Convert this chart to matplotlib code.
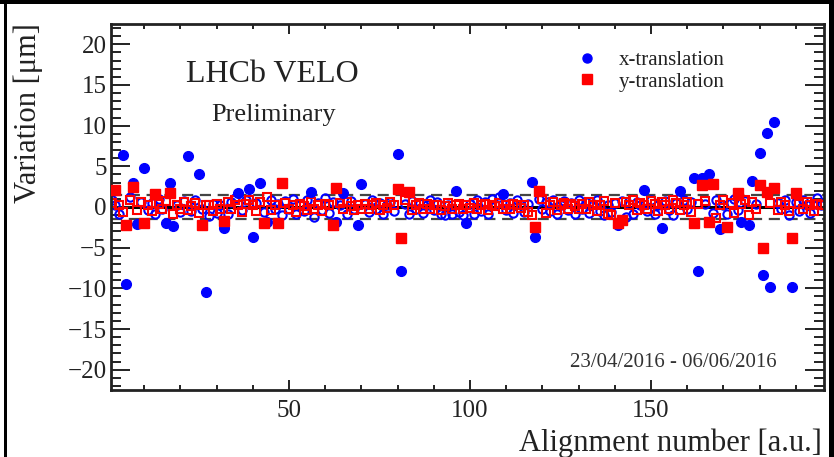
import numpy as np
import matplotlib
matplotlib.use('Agg')
import matplotlib.pyplot as plt
from matplotlib.patches import Rectangle
from matplotlib.lines import Line2D
from matplotlib.ticker import MultipleLocator

plt.rcParams['font.family'] = ['Liberation Serif', 'DejaVu Serif']

# alignment number 1..197
alignment = np.arange(1, 198)

# x-translation variation [um]
x_shift = [0.8, 0.3, -0.9, 6.4, -9.5, 1.2, 3.0, -2.1, 0.6, 4.8,
           -0.4, 0.5, -0.8, 1.0, -0.3, -2.0, 3.0, -2.3, 0.2, -0.6,
           0.7, 6.3, -0.5, 0.9, 4.1, -0.2, -10.5, -1.1, 0.4, -0.7,
           0.3, -2.6, -0.9, 0.6, 1.1, 1.7, -0.4, 0.8, 2.2, -3.7,
           0.5, 2.9, -0.6, -1.8, 0.9, -0.3, 0.4, -1.0, 0.7, -0.2,
           1.0, -0.8, 0.3, -0.5, 0.8, 1.9, -1.2, 0.5, -0.4, 1.1,
           -0.7, 0.6, -1.9, 0.2, 1.7, -0.9, 0.7, -0.3, -2.2, 2.8,
           0.4, -0.6, 0.9, -0.2, 0.5, -0.8, 0.3, 0.6, -0.5, 6.5,
           -7.9, 0.4, -0.9, 0.7, -0.3, 0.5, -0.7, 0.2, 0.8, -0.4,
           0.6, -0.9, -1.0, 0.3, -0.8, 2.0, -0.6, -1.0, -2.0, 0.4,
           -0.8, 0.9, -0.5, 0.6, -0.9, 1.0, 0.3, 1.2, 1.6, -0.4,
           0.5, -0.7, 0.8, 0.2, -0.6, 0.4, 3.1, -3.7, 1.0, -0.3,
           0.6, -0.5, 0.9, -0.8, 0.3, 0.7, -0.4, 0.5, -0.9, 0.8,
           -0.2, 0.6, -0.7, 0.4, 0.9, -0.5, -1.0, 0.3, -0.6, 0.5,
           -2.2, 0.7, -1.2, 0.4, -0.8, 0.6, 0.2, 2.1, -0.5, 0.8,
           -0.9, 0.3, -2.6, 0.7, -0.4, -1.0, 0.5, 2.0, 0.9, -0.3,
           0.6, 3.6, -7.9, 3.6, 0.4, 4.1, -0.7, 0.8, -2.7, 0.3,
           -0.9, 0.5, 1.0, -0.4, -1.8, 0.7, -2.2, 3.2, 0.4, 6.7,
           -8.4, 9.1, -9.8, 10.4, 0.5, -0.3, 0.8, -1.0, -9.8, 0.6,
           -0.5, 0.9, 0.3, -0.7, 0.4, 1.1, 0.2]

# y-translation variation [um]
y_shift = [0.5, 2.1, 0.3, -0.6, -2.2, 0.8, 2.5, -0.4, 0.6, -2.0,
           0.2, -0.5, 1.6, 0.4, -0.3, 0.7, 1.7, -0.8, 0.3, -0.2,
           0.6, -0.4, 0.1, 0.5, -0.7, -2.2, 0.3, 0.2, -0.5, 0.4,
           -0.3, -1.7, 0.6, -0.2, 0.8, 0.3, -0.6, 0.4, 0.9, 0.2,
           -0.5, 0.6, -2.0, 1.2, -0.4, 0.3, -2.0, 2.9, 0.5, -0.3,
           0.2, -0.6, 0.4, 0.1, -0.4, 0.6, -0.2, 0.3, -0.5, 0.4,
           0.2, -2.2, 2.3, 0.5, -0.3, 0.6, 0.1, -0.4, 0.3, -0.2,
           0.4, -0.3, 0.2, 0.5, -0.4, 0.3, -0.1, 0.6, 0.2, 2.2,
           -3.8, 0.8, 1.9, -0.4, 0.3, 0.5, -0.2, 0.4, -0.3, 0.2,
           0.3, -0.4, 0.1, 0.5, -0.3, 0.2, 0.4, -0.2, 0.3, -0.1,
           0.5, -0.3, 0.2, 0.4, -0.4, 0.3, 0.1, 0.5, -0.2, 0.3,
           -0.3, 0.4, 0.2, -0.1, 0.3, -0.6, -1.0, -2.4, 2.0, 1.0,
           -0.7, 0.3, 0.6, -0.4, 0.2, 0.5, -0.3, 0.4, 0.1, -0.2,
           0.4, -0.3, 0.6, 0.2, -0.5, 0.3, 0.7, -0.8, -1.0, 0.5,
           -2.0, -1.6, 0.6, 0.3, 0.9, -0.4, 0.5, 0.2, -0.3, 0.7,
           0.4, -0.5, 0.6, 0.3, -0.2, 0.8, 0.5, -0.4, 0.3, 0.6,
           -0.6, -2.0, 0.4, 2.7, 0.7, -1.8, 2.8, -1.4, 0.3, 0.9,
           -2.4, 0.5, -0.7, 1.7, 0.4, 0.8, -1.0, 0.6, -0.3, 2.7,
           -5.1, 1.9, 0.5, 2.3, -0.4, 0.6, 0.3, -0.5, -3.8, 1.7,
           0.4, -0.3, 0.6, 0.2, -0.5, 0.4, 0.3]

band = 1.5  # tolerance band, points outside are drawn filled

fig = plt.figure(figsize=(8.34, 4.57), dpi=100)
ax = fig.add_axes([0.1331, 0.1466, 0.8549, 0.8009])

ax.axhline(0, color='black', lw=2.2, zorder=1)
ax.axhline(band, color='#444444', lw=1.6, ls=(0, (5, 3)), zorder=1)
ax.axhline(-band, color='#444444', lw=1.6, ls=(0, (5, 3)), zorder=1)

for vals, col, mk in [(x_shift, '#0000ff', 'o'), (y_shift, '#ff0000', 's')]:
    v = np.array(vals)
    out = np.abs(v) > band
    ax.plot(alignment[~out], v[~out], mk, ls='none', mfc='none', mec=col,
            mew=1.5, ms=6.0, zorder=2)
    ax.plot(alignment[out], v[out], mk, ls='none', color=col, ms=7.0, zorder=3)

ax.set_xlim(0.8, 197.8)
ax.set_ylim(-22.5, 22.5)
ax.xaxis.set_major_locator(MultipleLocator(50))
ax.xaxis.set_minor_locator(MultipleLocator(10))
ax.yaxis.set_major_locator(MultipleLocator(5))
ax.yaxis.set_minor_locator(MultipleLocator(1))
ax.set_xticks([50, 100, 150])
ax.tick_params(axis='both', which='both', direction='in', top=True, right=True,
               width=1.4, colors='#222222', labelsize=18)
ax.tick_params(axis='y', which='major', length=14, pad=3)
ax.tick_params(axis='y', which='minor', length=7.5)
ax.tick_params(axis='x', which='major', length=7, pad=7)
ax.tick_params(axis='x', which='minor', length=3.6)
for s in ax.spines.values():
    s.set_linewidth(2.0)
    s.set_color('#222222')

# yticks with real minus sign
ax.set_yticks([-20, -15, -10, -5, 0, 5, 10, 15, 20])
ax.set_yticklabels(['\u221220', '\u221215', '\u221210', '\u22125', '0',
                    '5', '10', '15', '20'])

ax.text(0.226, 0.862, 'LHCb VELO', transform=ax.transAxes, ha='center',
        va='center', fontsize=23, color='#222222')
ax.text(0.228, 0.75, 'Preliminary', transform=ax.transAxes, ha='center',
        va='center', fontsize=19, color='#222222')
ax.text(0.934, 0.074, '23/04/2016 - 06/06/2016', transform=ax.transAxes,
        ha='right', va='center', fontsize=15, color='#333333')

handles = [Line2D([], [], marker='o', ls='none', color='#0000ff', ms=6.5),
           Line2D([], [], marker='s', ls='none', color='#ff0000', ms=6.5)]
ax.legend(handles, ['x-translation', 'y-translation'], loc='upper left',
          bbox_to_anchor=(0.627, 0.979), frameon=False, fontsize=15,
          handlelength=1.0, handletextpad=1.0, labelspacing=0.1,
          labelcolor='#222222')

fig.text(0.034, 0.95, 'Variation [\u03bcm]', rotation=90, ha='center',
         va='top', fontsize=22, color='#222222')
fig.text(0.9856, 0.031, 'Alignment number [a.u.]', ha='right', va='center',
         fontsize=22, color='#222222')

# black frame from the slide the picture was cut from
fig.add_artist(Rectangle((0, 1 - 4 / 457), 1, 4 / 457, transform=fig.transFigure,
                         color='black', lw=0))
fig.add_artist(Rectangle((4 / 834, 0), 3 / 834, 1, transform=fig.transFigure,
                         color='black', lw=0))
fig.add_artist(Rectangle((829 / 834, 0), 5 / 834, 1, transform=fig.transFigure,
                         color='black', lw=0))

fig.savefig('out.png', dpi=100)
